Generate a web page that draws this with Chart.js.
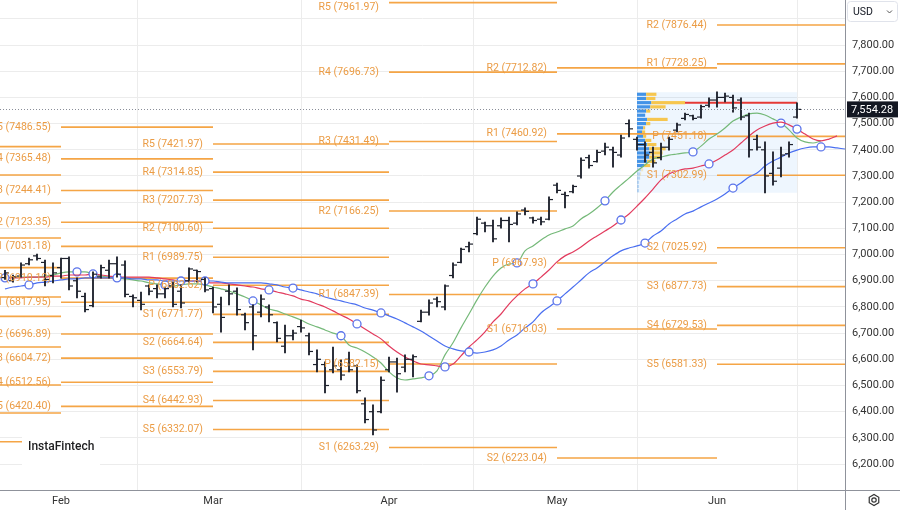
<!DOCTYPE html>
<html>
<head>
<meta charset="utf-8">
<script src="https://cdn.jsdelivr.net/npm/chart.js@4.4.1/dist/chart.umd.min.js"></script>
<style>
  body { margin: 0; background: #fff; }
  #wrap { width: 900px; height: 510px; position: relative; }
</style>
</head>
<body>
<div id="wrap"><canvas id="c" width="900" height="510"></canvas></div>
<script>
// bars (daily OHLC), index 0 = first visible bar
var opens = [6912, 6900, 6918, 6965, 6995, 6970, 6920, 6950, 6985, 6900,
  6840, 6805, 6915, 6940, 6965, 6960, 6840, 6825, 6880, 6870,
  6850, 6880, 6860, 6900, 6940, 6905, 6870, 6810, 6860, 6860,
  6770, 6800, 6780, 6800, 6740, 6650, 6690, 6725, 6690, 6580,
  6580, 6560, 6560, 6600, 6575, 6430, 6400, 6400, 6560, 6590,
  6570, 6600, 6745, 6780, 6830, 6800, 6920, 6970, 7030, 7080,
  7120, 7110, 7110, 7130, 7120, 7170, 7140, 7135, 7135, 7265,
  7230, 7240, 7300, 7370, 7355, 7395, 7400, 7380, 7500, 7440,
  7420, 7390, 7370, 7410, 7475, 7520, 7530, 7525, 7570, 7590,
  7600, 7600, 7590, 7530, 7440, 7400, 7310, 7330, 7385, 7525];
var highs = [6940, 6922, 6968, 6987, 7002, 6979, 6968, 6987, 6991, 6911,
  6853, 6934, 6960, 6979, 6991, 6976, 6846, 6857, 6884, 6884,
  6876, 6895, 6884, 6949, 6941, 6911, 6876, 6838, 6884, 6873,
  6777, 6808, 6846, 6808, 6743, 6731, 6712, 6750, 6700, 6636,
  6590, 6647, 6598, 6628, 6579, 6453, 6426, 6533, 6609, 6605,
  6617, 6617, 6788, 6827, 6838, 6884, 6968, 7025, 7048, 7143,
  7124, 7132, 7140, 7143, 7163, 7178, 7143, 7143, 7220, 7273,
  7239, 7265, 7369, 7380, 7399, 7426, 7410, 7456, 7514, 7449,
  7430, 7410, 7426, 7449, 7502, 7540, 7533, 7571, 7598, 7621,
  7617, 7609, 7598, 7540, 7456, 7430, 7392, 7410, 7430, 7579];
var lows = [6905, 6895, 6914, 6960, 6979, 6880, 6892, 6910, 6865, 6834,
  6781, 6800, 6910, 6910, 6914, 6838, 6800, 6789, 6846, 6834,
  6834, 6800, 6796, 6895, 6895, 6857, 6777, 6704, 6808, 6769,
  6712, 6636, 6762, 6743, 6666, 6624, 6674, 6704, 6617, 6552,
  6472, 6548, 6521, 6552, 6472, 6357, 6311, 6395, 6552, 6475,
  6552, 6533, 6743, 6769, 6800, 6789, 6911, 6968, 7010, 7075,
  7086, 7048, 7101, 7048, 7113, 7151, 7120, 7113, 7132, 7235,
  7178, 7235, 7292, 7330, 7353, 7380, 7334, 7372, 7449, 7399,
  7353, 7334, 7361, 7399, 7468, 7514, 7514, 7521, 7563, 7563,
  7583, 7544, 7514, 7372, 7399, 7235, 7265, 7296, 7372, 7521];
var closes = [6930, 6915, 6960, 6980, 6985, 6905, 6930, 6985, 6880, 6860,
  6790, 6925, 6950, 6965, 6925, 6848, 6835, 6810, 6860, 6850,
  6870, 6810, 6815, 6945, 6935, 6865, 6800, 6760, 6850, 6790,
  6740, 6690, 6830, 6770, 6680, 6690, 6700, 6720, 6630, 6600,
  6500, 6575, 6540, 6560, 6480, 6370, 6330, 6520, 6590, 6545,
  6600, 6610, 6780, 6815, 6820, 6880, 6960, 7020, 7040, 7135,
  7110, 7060, 7130, 7115, 7155, 7165, 7130, 7125, 7210, 7245,
  7225, 7260, 7360, 7340, 7390, 7410, 7390, 7445, 7480, 7420,
  7380, 7350, 7410, 7440, 7495, 7535, 7520, 7565, 7590, 7600,
  7605, 7560, 7525, 7400, 7410, 7300, 7280, 7380, 7420, 7554.28];
var lastPrice = 7554.28;

// alligator lines (already shifted forward)
var lips = [6911, 6914, 6914, 6914, 6914, 6918, 6922, 6930, 6934, 6934,
  6934, 6926, 6918, 6914, 6911, 6907, 6903, 6899, 6892, 6888,
  6884, 6880, 6884, 6888, 6888, 6884, 6876, 6869, 6861, 6850,
  6838, 6823, 6808, 6792, 6785, 6773, 6762, 6750, 6735, 6724,
  6712, 6700, 6690, 6655, 6643, 6628, 6609, 6586, 6552, 6529,
  6521, 6525, 6529, 6537, 6556, 6617, 6663, 6720, 6773, 6827,
  6876, 6918, 6949, 6964, 6968, 7014, 7033, 7056, 7075, 7086,
  7098, 7109, 7136, 7155, 7178, 7205, 7239, 7266, 7292, 7319,
  7342, 7365, 7372, 7380, 7384, 7388, 7392, 7414, 7441, 7460,
  7483, 7510, 7525, 7537, 7540, 7533, 7518, 7502, 7476, 7445,
  7430, 7426, 7434];
var teeth = [6911, 6911, 6911, 6914, 6914, 6914, 6918, 6918, 6922, 6922,
  6922, 6926, 6922, 6918, 6914, 6914, 6914, 6914, 6914, 6911,
  6907, 6903, 6899, 6899, 6899, 6895, 6892, 6892, 6888, 6884,
  6880, 6876, 6869, 6865, 6857, 6850, 6842, 6830, 6823, 6811,
  6800, 6785, 6769, 6754, 6735, 6716, 6697, 6678, 6651, 6628,
  6609, 6594, 6582, 6579, 6575, 6571, 6582, 6613, 6647, 6674,
  6705, 6743, 6773, 6811, 6842, 6869, 6888, 6914, 6941, 6972,
  6995, 7010, 7029, 7052, 7071, 7090, 7109, 7132, 7155, 7185,
  7216, 7250, 7285, 7308, 7319, 7327, 7330, 7338, 7346, 7361,
  7380, 7399, 7426, 7453, 7476, 7491, 7502, 7506, 7495, 7479,
  7460, 7441, 7434, 7441, 7453];
var jaw = [6869, 6876, 6880, 6884, 6892, 6895, 6899, 6903, 6907, 6907,
  6911, 6911, 6911, 6911, 6911, 6911, 6907, 6907, 6903, 6903,
  6899, 6899, 6899, 6899, 6899, 6899, 6899, 6895, 6892, 6892,
  6892, 6892, 6892, 6888, 6884, 6876, 6872, 6865, 6857, 6850,
  6838, 6830, 6823, 6815, 6808, 6796, 6788, 6777, 6766, 6754,
  6739, 6724, 6708, 6689, 6670, 6651, 6640, 6632, 6628, 6624,
  6628, 6636, 6651, 6674, 6693, 6720, 6743, 6777, 6800, 6823,
  6850, 6876, 6903, 6930, 6949, 6972, 6995, 7014, 7025, 7033,
  7044, 7071, 7090, 7117, 7136, 7155, 7166, 7182, 7197, 7212,
  7231, 7254, 7273, 7296, 7311, 7338, 7357, 7372, 7388, 7399,
  7407, 7411, 7411, 7411, 7407, 7403, 7399];
var lipsMarks = [9, 20, 31, 42, 53, 64, 75, 86, 97];
var teethMarks = [0, 11, 22, 33, 44, 55, 66, 77, 88, 99];
var jawMarks = [3, 14, 25, 36, 47, 58, 69, 80, 91, 102];

// months (first bar of each month)
var monthStarts = [7, 26, 48, 69, 89];
var monthNames = ['Feb', 'Mar', 'Apr', 'May', 'Jun'];

// monthly pivot points
var pivotNames = ['R5', 'R4', 'R3', 'R2', 'R1', 'P', 'S1', 'S2', 'S3', 'S4', 'S5'];
var janLevels = [7412, 7304, 7197, 7063, 6950, 6838, 6764, 6647, 6502, 6395, 6285];
var febLevels = [7486.55, 7365.48, 7244.41, 7123.35, 7031.18, 6910.12, 6817.95, 6696.89, 6604.72, 6512.56, 6420.40];
var marLevels = [7421.97, 7314.85, 7207.73, 7100.60, 6989.75, 6882.62, 6771.77, 6664.64, 6553.79, 6442.93, 6332.07];
var aprNames = ['R5', 'R4', 'R3', 'R2', 'R1', 'P', 'S1'];
var aprLevels = [7961.97, 7696.73, 7431.49, 7166.25, 6847.39, 6582.15, 6263.29];
var mayNames = ['R2', 'R1', 'P', 'S1', 'S2'];
var mayLevels = [7712.82, 7460.92, 6967.93, 6716.03, 6223.04];
var junNames = ['R2', 'R1', 'P', 'S1', 'S2', 'S3', 'S4', 'S5'];
var junLevels = [7876.44, 7728.25, 7451.18, 7302.99, 7025.92, 6877.73, 6729.53, 6581.33];

// visible range volume profile (rows from bottom, 16 pts each)
var profileFrom = 79, profileTo = 99;
var profileLow = 7236, profileStep = 16, valueAreaLow = 7332;
var upVol = [2, 2, 2, 3, 3, 4, 7, 10, 12, 13, 12, 10, 8, 6, 5, 6, 9, 10, 8, 9, 13, 14, 9, 9];
var downVol = [0, 0, 0, 0, 1, 2, 6, 8, 11, 12, 16, 9, 6, 3, 3, 2, 4, 20, 0, 4, 15, 33, 9, 10];

var yTicks = [6200, 6300, 6400, 6500, 6600, 6700, 6800, 6900, 7000, 7100, 7200, 7300, 7400, 7500, 7600, 7700, 7800, 7900];
var xMin = -0.625, xMax = 105, yMin = 6101, yMax = 7972;

Chart.defaults.font.family = 'Roboto';

var periods = [
  { from: xMin, to: monthStarts[0], levels: janLevels, names: null },
  { from: monthStarts[0], to: monthStarts[1], levels: febLevels, names: pivotNames },
  { from: monthStarts[1], to: monthStarts[2], levels: marLevels, names: pivotNames },
  { from: monthStarts[2], to: monthStarts[3], levels: aprLevels, names: aprNames },
  { from: monthStarts[3], to: monthStarts[4], levels: mayLevels, names: mayNames },
  { from: monthStarts[4], to: xMax, levels: junLevels, names: junNames }
];
var pivotData = [];
periods.forEach(function (p) {
  p.levels.forEach(function (v) {
    pivotData.push({ x: p.from, y: v }, { x: p.to, y: v }, { x: p.to, y: null });
  });
});

var hlData = highs.map(function (h, i) { return { x: i, y: [lows[i], h] }; });
var openData = opens.map(function (o, i) { return { x: i - 0.25, y: o }; });
var closeData = closes.map(function (c, i) { return { x: i + 0.25, y: c }; });
function lineData(arr) { return arr.map(function (v, i) { return { x: i, y: v }; }); }
function markSizes(arr, marks) { return arr.map(function (v, i) { return marks.indexOf(i) >= 0 ? 4 : 0; }); }

function fmt(v) { return v.toLocaleString('en-US', { minimumFractionDigits: 2, maximumFractionDigits: 2 }); }

function maSet(label, arr, marks, color) {
  return {
    type: 'line', label: label, data: lineData(arr), order: 2,
    borderColor: color, borderWidth: 1.2, cubicInterpolationMode: 'monotone',
    pointRadius: markSizes(arr, marks), pointHoverRadius: 0,
    pointBackgroundColor: '#fff', pointBorderColor: '#5a73ea', pointBorderWidth: 1.3
  };
}

// volume profile + POC line, under the bars
var profilePlugin = {
  id: 'profile',
  beforeDatasetsDraw: function (chart) {
    var ctx = chart.ctx, xs = chart.scales.x, ys = chart.scales.y;
    var x0 = xs.getPixelForValue(profileFrom), x1 = xs.getPixelForValue(profileTo);
    var top = ys.getPixelForValue(profileLow + profileStep * upVol.length);
    var bot = ys.getPixelForValue(profileLow);
    ctx.save();
    ctx.fillStyle = 'rgba(66,150,240,0.09)';
    ctx.fillRect(x0, top, x1 - x0, bot - top);
    var maxTot = 0, poc = 0;
    upVol.forEach(function (u, k) { if (u + downVol[k] > maxTot) { maxTot = u + downVol[k]; poc = k; } });
    var maxW = (x1 - x0) * 0.3;
    upVol.forEach(function (u, k) {
      var yT = ys.getPixelForValue(profileLow + (k + 1) * profileStep);
      var yB = ys.getPixelForValue(profileLow + k * profileStep);
      var inVA = profileLow + k * profileStep >= valueAreaLow;
      var wu = u / maxTot * maxW, wd = downVol[k] / maxTot * maxW;
      ctx.fillStyle = inVA ? 'rgba(58,142,230,0.95)' : 'rgba(58,142,230,0.3)';
      ctx.fillRect(x0, yT + 0.5, wu, yB - yT - 1);
      ctx.fillStyle = inVA ? 'rgba(247,196,70,0.95)' : 'rgba(247,196,70,0.3)';
      ctx.fillRect(x0 + wu, yT + 0.5, wd, yB - yT - 1);
    });
    var yc = ys.getPixelForValue(profileLow + (poc + 0.5) * profileStep);
    ctx.strokeStyle = '#e53935';
    ctx.lineWidth = 2;
    ctx.beginPath();
    ctx.moveTo(x0 + maxW, yc);
    ctx.lineTo(x1, yc);
    ctx.stroke();
    ctx.restore();
  }
};

// pivot labels and last price line
var overlayPlugin = {
  id: 'overlay',
  afterDatasetsDraw: function (chart) {
    var ctx = chart.ctx, xs = chart.scales.x, ys = chart.scales.y, a = chart.chartArea;
    ctx.save();
    ctx.font = '10.5px Roboto';
    ctx.fillStyle = '#eb9c45';
    ctx.textAlign = 'right';
    ctx.textBaseline = 'middle';
    periods.forEach(function (p) {
      if (!p.names) return;
      var x = xs.getPixelForValue(p.from) - 10;
      p.levels.forEach(function (v, k) {
        var y = ys.getPixelForValue(v);
        if (y < a.top || y > a.bottom) return;
        ctx.fillText(p.names[k] + ' (' + v.toFixed(2) + ')', x, Math.max(y, a.top + 7));
      });
    });
    var py = Math.round(ys.getPixelForValue(lastPrice)) + 0.5;
    ctx.strokeStyle = '#8a8e99';
    ctx.lineWidth = 1;
    ctx.setLineDash([1, 2]);
    ctx.beginPath();
    ctx.moveTo(a.left, py);
    ctx.lineTo(a.right, py);
    ctx.stroke();
    ctx.restore();
  },
  afterDraw: function (chart) {
    var ctx = chart.ctx, ys = chart.scales.y, a = chart.chartArea;
    ctx.save();
    ctx.strokeStyle = '#8f929b';
    ctx.lineWidth = 1;
    ctx.beginPath();
    ctx.moveTo(a.right + 0.5, 0);
    ctx.lineTo(a.right + 0.5, chart.height);
    ctx.moveTo(0, a.bottom + 0.5);
    ctx.lineTo(chart.width, a.bottom + 0.5);
    ctx.stroke();

    // last price tag
    var py = ys.getPixelForValue(lastPrice);
    ctx.fillStyle = '#131722';
    ctx.fillRect(a.right + 2, py - 8, 51, 16);
    ctx.fillStyle = '#fff';
    ctx.font = '11px Roboto';
    ctx.textAlign = 'left';
    ctx.textBaseline = 'middle';
    ctx.fillText(fmt(lastPrice), a.right + 6, py + 0.5);

    // currency box
    ctx.fillStyle = '#fff';
    ctx.strokeStyle = '#e0e3eb';
    ctx.beginPath();
    ctx.roundRect(a.right + 2.5, 1.5, 50, 20, 3);
    ctx.fill();
    ctx.stroke();
    ctx.fillStyle = '#131722';
    ctx.font = '10.5px Roboto';
    ctx.fillText('USD', a.right + 8, 12);
    ctx.strokeStyle = '#555';
    ctx.beginPath();
    ctx.moveTo(a.right + 42, 10.5);
    ctx.lineTo(a.right + 44.5, 13);
    ctx.lineTo(a.right + 47, 10.5);
    ctx.stroke();

    // logo
    ctx.fillStyle = '#fff';
    ctx.fillRect(22, 426, 78, 42);
    ctx.fillStyle = '#1d1d1f';
    ctx.font = '500 12px Roboto';
    ctx.fillText('InstaFintech', 28, 447);

    // settings icon
    var cx = a.right + 29, cy = a.bottom + 10;
    ctx.strokeStyle = '#333';
    ctx.lineWidth = 1.2;
    ctx.beginPath();
    for (var k = 0; k < 6; k++) {
      var ang = Math.PI / 6 + k * Math.PI / 3;
      var px = cx + 5.5 * Math.cos(ang), pyy = cy + 5.5 * Math.sin(ang);
      if (k === 0) ctx.moveTo(px, pyy); else ctx.lineTo(px, pyy);
    }
    ctx.closePath();
    ctx.stroke();
    ctx.beginPath();
    ctx.arc(cx, cy, 2.2, 0, Math.PI * 2);
    ctx.stroke();
    ctx.restore();
  }
};

new Chart(document.getElementById('c'), {
  type: 'line',
  data: {
    datasets: [
      { type: 'bar', label: 'hl', data: hlData, order: 1, backgroundColor: '#1e222d', barThickness: 1.2, grouped: false },
      { type: 'line', label: 'open', data: openData, order: 0, showLine: false, pointStyle: 'line', pointRadius: 2,
        pointHoverRadius: 0, pointBorderWidth: 1.2, pointBorderColor: '#1e222d' },
      { type: 'line', label: 'close', data: closeData, order: 0, showLine: false, pointStyle: 'line', pointRadius: 2,
        pointHoverRadius: 0, pointBorderWidth: 1.2, pointBorderColor: '#1e222d' },
      maSet('jaw', jaw, jawMarks, '#4a6ff0'),
      maSet('teeth', teeth, teethMarks, '#e23b5e'),
      maSet('lips', lips, lipsMarks, '#75b979'),
      { type: 'line', label: 'pivots', data: pivotData, order: 3, borderColor: 'rgba(244,160,60,0.95)',
        borderWidth: 1.6, pointRadius: 0, pointHoverRadius: 0, spanGaps: false, tension: 0 }
    ]
  },
  options: {
    responsive: false,
    animation: false,
    events: [],
    layout: { padding: 0, autoPadding: false },
    plugins: { legend: { display: false }, tooltip: { enabled: false } },
    scales: {
      x: {
        type: 'linear', min: xMin, max: xMax, offset: false,
        afterBuildTicks: function (s) { s.ticks = monthStarts.map(function (v) { return { value: v }; }); },
        afterFit: function (s) { s.height = 20; s.paddingLeft = 0; s.paddingRight = 0; },
        ticks: {
          autoSkip: false, maxRotation: 0, padding: 5, color: '#333', font: { size: 11 },
          callback: function (v) { var k = monthStarts.indexOf(v); return k >= 0 ? monthNames[k] : ''; }
        },
        grid: { color: '#ececec', drawTicks: false },
        border: { display: false }
      },
      y: {
        type: 'linear', position: 'right', min: yMin, max: yMax,
        afterBuildTicks: function (s) { s.ticks = yTicks.map(function (v) { return { value: v }; }); },
        afterFit: function (s) { s.width = 55; s.paddingTop = 0; s.paddingBottom = 0; },
        ticks: {
          padding: 7, color: '#333', font: { size: 11 },
          callback: function (v) { return v <= 7800 ? fmt(v) : ''; }
        },
        grid: { color: '#ececec', drawTicks: false },
        border: { display: false }
      }
    }
  },
  plugins: [profilePlugin, overlayPlugin]
});
</script>
</body>
</html>
